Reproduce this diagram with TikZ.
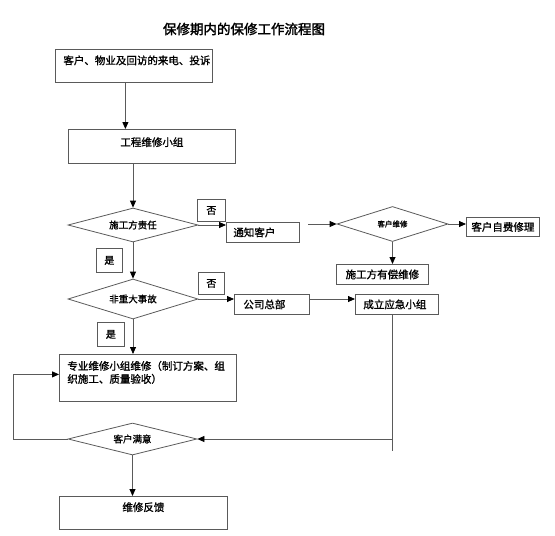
\documentclass[tikz,border=0pt]{standalone}
\usepackage{fontspec}
\newfontfamily\cjk{Noto Sans CJK SC}[FakeBold=1.2]
\newfontfamily\cjktitle{Noto Sans CJK SC}[FakeBold=2]
\usetikzlibrary{shapes.geometric,arrows.meta}
\definecolor{lg}{HTML}{5A5A5A}
\begin{document}
\begin{tikzpicture}[x=1pt,y=-1pt,
  every node/.style={font=\cjk\fontsize{10.5}{13}\selectfont, inner sep=0pt},
  box/.style={draw=lg, line width=0.8pt, rectangle, anchor=north west},
  dia/.style={draw=lg, line width=0.8pt, diamond, inner sep=0pt},
  lbl/.style={box, font=\cjk\fontsize{10}{12}\selectfont},
  diafont/.style={font=\cjk\fontsize{9.5}{11}\selectfont},
  arr/.style={draw=lg, line width=0.8pt, -{Triangle[length=7pt,width=6pt,color=black]}},
  ln/.style={draw=lg, line width=0.8pt}]
\useasboundingbox (0,0) rectangle (555,536);

\node[font=\cjktitle\fontsize{13.5}{16}\selectfont] (title) at (244,29) {保修期内的保修工作流程图};

\node[box, minimum width=157pt, minimum height=33pt, text width=141pt, inner xsep=8pt, align=left, text depth=12pt] (b1) at (55,49) {客户、物业及回访的来电、投诉};
\node[box, minimum width=167pt, minimum height=34pt, text depth=9.3pt] (b2) at (68,129) {工程维修小组};

\node[dia, diafont, minimum width=130pt, minimum height=34pt, aspect=3.8] (d1) at (133,225) {施工方责任};
\node[lbl, minimum width=28pt, minimum height=22pt] (no1) at (197,199) {否};
\node[box, minimum width=73pt, minimum height=20pt, text width=59pt, inner xsep=7pt, align=left] (n1) at (226,222) {通知客户};

\node[dia, font=\cjk\fontsize{7.5}{9}\selectfont, minimum width=111pt, minimum height=35pt, aspect=3.2] (d2) at (392.5,224) {客户维修};
\node[box, minimum width=73pt, minimum height=19pt] (c1) at (466,217) {客户自费修理};
\node[box, minimum width=92pt, minimum height=20pt] (c2) at (336,264) {施工方有偿维修};

\node[lbl, minimum width=26pt, minimum height=24pt] (yes1) at (96,248) {是};
\node[dia, diafont, minimum width=130pt, minimum height=40pt, aspect=3.3] (d3) at (133,299) {非重大事故};
\node[lbl, minimum width=26pt, minimum height=22pt] (no2) at (198,272) {否};
\node[box, minimum width=75pt, minimum height=20pt, text width=57pt, inner xsep=9pt, align=left] (h1) at (234,294) {公司总部};
\node[box, minimum width=83pt, minimum height=20pt, text width=67pt, inner xsep=8pt, align=left] (h2) at (355,294) {成立应急小组};

\node[lbl, minimum width=27pt, minimum height=24pt] (yes2) at (97,322) {是};
\node[box, minimum width=177pt, minimum height=47pt, text width=161pt, inner xsep=8pt, align=left, text depth=25pt] (p1) at (59,354) {专业维修小组维修（制订方案、组\\织施工、质量验收）};

\node[dia, diafont, minimum width=129pt, minimum height=32pt, aspect=4] (d4) at (132.5,439) {客户满意};
\node[box, minimum width=168pt, minimum height=33pt, text depth=12.3pt] (f1) at (59,496) {维修反馈};

% connectors
\draw[arr] ([xshift=-8.5pt]b1.south) -- ([xshift=-8.5pt]b1.south |- b2.north);
\draw[arr] (b2.south -| d1.north) -- (d1.north);
\draw[arr] (d1.east) -- (d1.east -| n1.west);
\coordinate (s2) at (308,224);
\draw[arr] (s2) -- (d2.west);
\draw[arr] (d2.east) -- (d2.east -| c1.west);
\draw[arr] (d2.south) -- (d2.south |- c2.north);
\draw[arr] (d1.south) -- (d3.north);
\draw[arr] (d3.east) -- (d3.east -| h1.west);
\draw[arr] (h1.east |- d3.east) -- (h2.west |- d3.east);
\draw[arr] (d3.south) -- (d3.south |- p1.north);
\coordinate (corner) at (392,439);
\coordinate (tail) at (392,451);
\draw[ln] (h2.south -| corner) -- (tail);
\draw[arr] (corner) -- (d4.east);
\coordinate (loop) at (13,439);
\draw[arr] (d4.west) -- (loop) |- ([yshift=3.5pt]p1.west);
\draw[arr] (d4.south) -- (d4.south |- f1.north);
\end{tikzpicture}
\end{document}
